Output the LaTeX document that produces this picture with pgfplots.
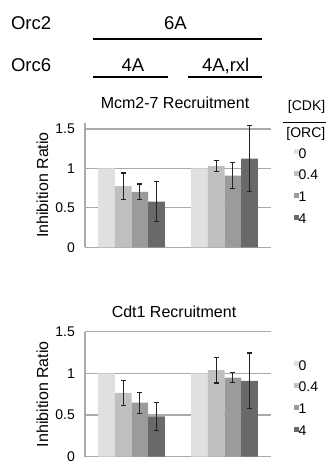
\documentclass[border=0pt]{standalone}
\usepackage{fontspec}
\setmainfont{Liberation Sans}
\usepackage{pgfplots}
\pgfplotsset{compat=1.18}
\definecolor{cA}{RGB}{224,224,224}
\definecolor{cB}{RGB}{192,192,192}
\definecolor{cC}{RGB}{155,155,155}
\definecolor{cD}{RGB}{105,105,105}
\definecolor{gridc}{RGB}{170,170,170}
\definecolor{errc}{RGB}{35,35,35}
\newcommand\hdr{\fontsize{18.5}{20}\selectfont}
\newcommand\ttl{\fontsize{16}{18}\selectfont}
\newcommand\sml{\fontsize{14}{16}\selectfont}
\pgfplotsset{
 mystyle/.style={
  scale only axis, width=186pt,
  xmin=-0.5, xmax=1.5, ymin=0,
  ybar=0pt, bar width=16.7pt,
  axis x line*=bottom, axis y line*=left,
  axis line style={draw=gridc, line width=1.1pt, -},
  ytick={0,0.5,1,1.5}, yticklabels={0,0.5,1,1.5},
  xtick=\empty,
  major tick length=0pt,
  ymajorgrids, grid style={draw=gridc, line width=1.1pt},
  yticklabel style={font=\sml, anchor=east, inner sep=0pt, xshift=-10pt},
  ylabel={Inhibition Ratio},
  every axis y label/.style={at={(axis description cs:0,0.5)}, xshift=-42.5pt, rotate=90, anchor=center, font=\ttl},
  legend cell align=left,
  legend style={draw=none, fill=none, inner sep=0pt, font=\sml, row sep=11.8pt,
    nodes={inner sep=0pt, text height=10pt, text depth=0pt},
    /tikz/every even column/.append style={column sep=1.5pt}},
  legend image code/.code={\fill[##1] (0pt,-1pt) rectangle (5pt,4pt);},
 },
 eb/.style={error bars/y dir=both, error bars/y explicit,
  error bars/error bar style={draw=errc, line width=1.2pt},
  error bars/error mark options={rotate=90, mark size=2.6pt, line width=1.2pt, draw=errc}},
}
\begin{document}
\begin{tikzpicture}
\useasboundingbox (0,0) rectangle (326pt,462pt);
% header
\node[anchor=base west, font=\hdr, inner sep=0] at (10.8pt,432pt) {Orc2};
\node[anchor=base, font=\hdr, inner sep=0] at (175.5pt,432pt) {6A};
\draw[line width=2pt] (93.3pt,422.7pt) -- (261.7pt,422.7pt);
\node[anchor=base west, font=\hdr, inner sep=0] at (10.8pt,390.5pt) {Orc6};
\node[anchor=base, font=\hdr, inner sep=0] at (133pt,390.5pt) {4A};
\node[anchor=base, font=\hdr, inner sep=0] at (225.7pt,390.5pt) {4A,rxl};
\draw[line width=2pt] (93.3pt,385.3pt) -- (168.3pt,385.3pt);
\draw[line width=2pt] (188.3pt,385.3pt) -- (261.7pt,385.3pt);
\node[anchor=base, font=\ttl, inner sep=0] at (175pt,353pt) {Mcm2-7 Recruitment};
\node[anchor=base east, font=\sml, inner sep=0] at (325.5pt,351pt) {[CDK]};
\draw[line width=1.4pt] (282.7pt,339.3pt) -- (326pt,339.3pt);
\node[anchor=base east, font=\sml, inner sep=0] at (325.5pt,324pt) {[ORC]};
\node[anchor=base, font=\ttl, inner sep=0] at (174pt,144pt) {Cdt1 Recruitment};

\begin{axis}[mystyle, at={(85pt,214.7pt)}, anchor=south west, height=124.6pt, ymax=1.58,
  legend style={at={(rel axis cs:1.121,0.797)}, anchor=north west}]
\addplot[fill=cA, draw=none] coordinates {(0,1) (1,1)};
\addplot[fill=cB, draw=none, eb] coordinates {(0,0.775) +- (0,0.168) (1,1.03) +- (0,0.067)};
\addplot[fill=cC, draw=none, eb] coordinates {(0,0.703) +- (0,0.10) (1,0.91) +- (0,0.167)};
\addplot[fill=cD, draw=none, eb] coordinates {(0,0.58) +- (0,0.255) (1,1.123) +- (0,0.418)};
\legend{0,0.4,1,4}
\end{axis}

\begin{axis}[mystyle, at={(85pt,5.3pt)}, anchor=south west, height=125pt, ymax=1.5,
  legend style={at={(rel axis cs:1.121,0.774)}, anchor=north west}]
\addplot[fill=cA, draw=none] coordinates {(0,1) (1,1)};
\addplot[fill=cB, draw=none, eb] coordinates {(0,0.765) +- (0,0.15) (1,1.04) +- (0,0.155)};
\addplot[fill=cC, draw=none, eb] coordinates {(0,0.648) +- (0,0.127) (1,0.95) +- (0,0.058)};
\addplot[fill=cD, draw=none, eb] coordinates {(0,0.484) +- (0,0.171) (1,0.91) +- (0,0.335)};
\legend{0,0.4,1,4}
\end{axis}
\end{tikzpicture}
\end{document}
